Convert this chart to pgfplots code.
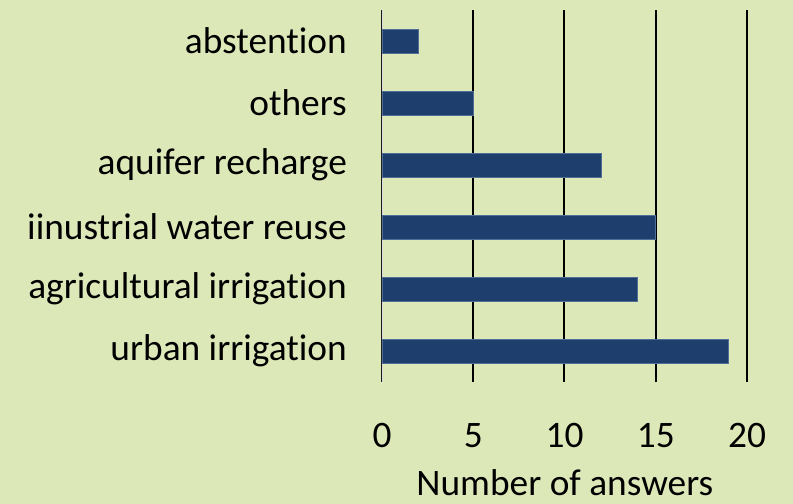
\documentclass[border=0pt]{standalone}
\usepackage{fontspec}
\setmainfont{Carlito}[Ligatures=NoCommon]
\usepackage{pgfplots}
\pgfplotsset{compat=1.18}
\definecolor{bg}{RGB}{221,232,185}
\definecolor{barc}{RGB}{30,62,110}
\definecolor{baredge}{RGB}{80,110,150}
\begin{document}
\fontsize{37.5}{44}\selectfont
\begin{tikzpicture}
\path[use as bounding box, fill=bg] (-382bp,-122bp) rectangle (411bp,382bp);
\begin{axis}[
  scale only axis, width=365bp, height=372bp,
  xbar, bar width=24bp,
  xmin=0, xmax=20, ymin=-0.5, ymax=5.5,
  xtick={0,5,10,15,20},
  ytick={0,1,2,3,4,5},
  yticklabels={urban irrigation, agricultural irrigation, iinustrial water reuse, aquifer recharge, others, abstention},
  axis line style={draw=none},
  major tick length=0pt,
  xmajorgrids, grid style={black, line width=2bp},
  /pgf/number format/assume math mode=true,
  ticklabel style={font=\fontsize{37.5}{44}\selectfont},
  xticklabel style={anchor=center, yshift=-54bp},
  yticklabel style={anchor=east, inner sep=0pt, xshift=-35bp},
  xlabel={Number of answers},
  xlabel style={font=\fontsize{37.5}{44}\selectfont, inner sep=0pt, at={(axis description cs:0.501,0)}, anchor=center, yshift=-101bp},
]
\draw[black!15, line width=1.5bp] (axis cs:0,-0.5) -- (axis cs:0,5.5);
\addplot[fill=barc, draw=baredge, line width=0.5bp] coordinates {(19,0) (14,1) (15,2) (12,3) (5,4) (2,5)};
\end{axis}
\end{tikzpicture}
\end{document}
